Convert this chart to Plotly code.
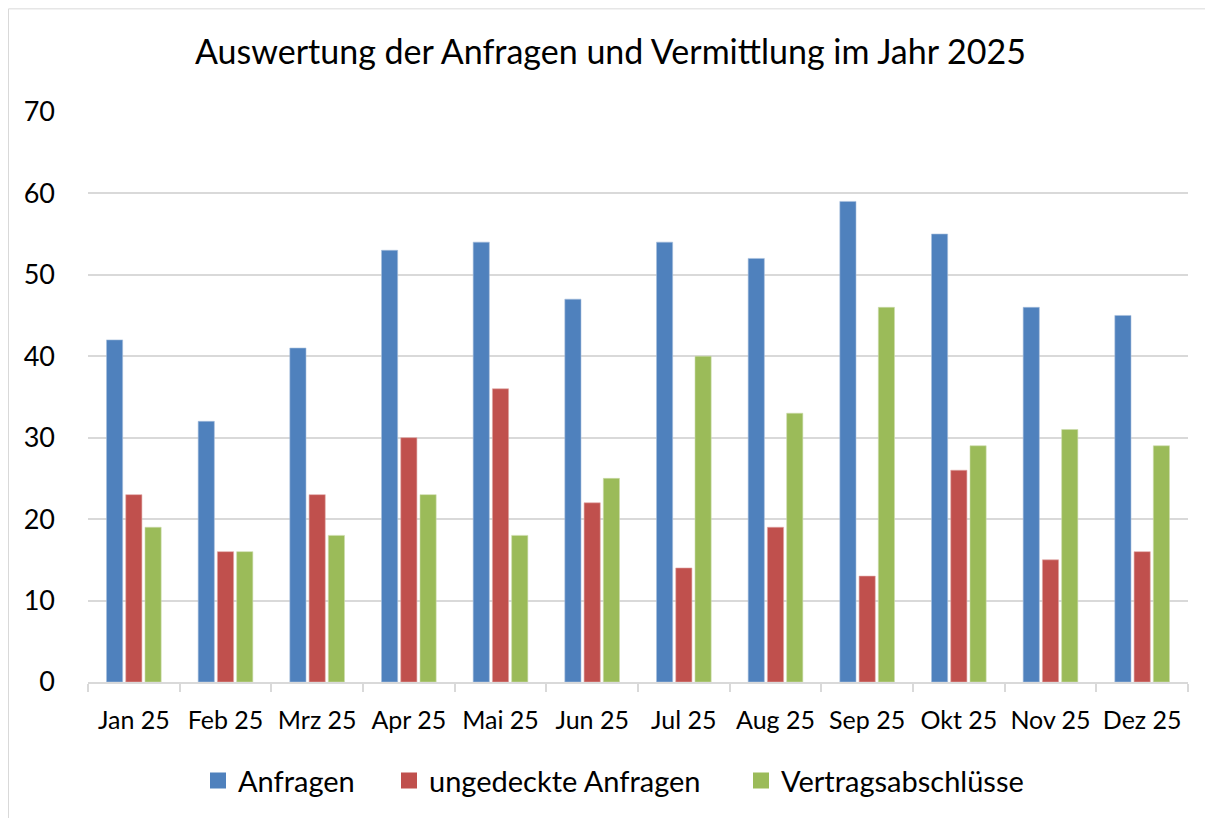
import plotly.graph_objects as go

months = ["Jan 25", "Feb 25", "Mrz 25", "Apr 25", "Mai 25", "Jun 25",
          "Jul 25", "Aug 25", "Sep 25", "Okt 25", "Nov 25", "Dez 25"]
anfragen = [42, 32, 41, 53, 54, 47, 54, 52, 59, 55, 46, 45]
ungedeckt = [23, 16, 23, 30, 36, 22, 14, 19, 13, 26, 15, 16]
vertraege = [19, 16, 18, 23, 18, 25, 40, 33, 46, 29, 31, 29]

series_names = ["Anfragen", "ungedeckte Anfragen", "Vertragsabschlüsse"]
colors = ["#4f81bd", "#c0504d", "#9bbb59"]
edge_colors = ["#a7c0de", "#e0a8a6", "#cddcad"]

FONT = "Lato, 'Open Sans', sans-serif"
OFF = 8  # page body margin
W, H = 1213 - OFF, 818 - OFF
# target pixel positions in the screenshot
PL, PR, PT, PB = 88, 1188, 111, 684
ML, MR, MT, MB = PL - OFF, (W + OFF) - PR, PT - OFF, (H + OFF) - PB
pw = PR - PL
ph = PB - PT
def px_x(p):
    return (p - PL) / pw
def px_y(p):
    return (PB - p) / ph

fig = go.Figure()
for name, vals, c, ec in zip(series_names, [anfragen, ungedeckt, vertraege], colors, edge_colors):
    fig.add_bar(x=months, y=vals, name=name, marker_color=c,
                marker_line_color=ec, marker_line_width=0.6, showlegend=False)

# legend entries (square swatches), one legend per series for Excel-like spacing
legend_centers = [218, 409, 761]
legend_keys = ["legend", "legend2", "legend3"]
for name, c, key in zip(series_names, colors, legend_keys):
    fig.add_scatter(x=[None], y=[None], mode="markers", name=name,
                    marker=dict(symbol="square", size=18, color=c), legend=key)

legend_common = dict(orientation="h", yanchor="middle", y=px_y(783), xanchor="left",
                     font=dict(size=29, family=FONT), bgcolor="rgba(0,0,0,0)",
                     borderwidth=0, itemwidth=30)
legend_layouts = {}
for key, cx in zip(legend_keys, legend_centers):
    legend_layouts[key] = dict(legend_common, x=px_x(cx - 20))

fig.add_shape(type="rect", xref="paper", yref="paper",
              x0=px_x(8.5), x1=px_x(1230), y0=px_y(840), y1=px_y(8.5),
              line=dict(color="#d9d9d9", width=1), fillcolor="rgba(0,0,0,0)", layer="below")

fig.update_layout(
    width=W, height=H,
    margin=dict(l=ML, r=MR, t=MT, b=MB),
    paper_bgcolor="white", plot_bgcolor="white",
    barmode="group", bargap=0.37, bargroupgap=0.16,
    font=dict(family=FONT, color="#000000"),
    title=dict(text="Auswertung der Anfragen und Vermittlung im Jahr 2025",
               x=0.5, xanchor="center", y=1 - (52 - OFF) / H, yanchor="middle",
               font=dict(size=34, family=FONT, color="#000000")),
    xaxis=dict(showgrid=False, showline=True, linecolor="#d9d9d9", linewidth=1.5,
               ticks="outside", tickson="boundaries", ticklen=8, tickcolor="#d9d9d9",
               tickwidth=1.5, tickangle=0, automargin=False,
               tickfont=dict(size=25, family=FONT), ticklabelstandoff=15),
    yaxis=dict(range=[0, 70.1], dtick=10, showgrid=True, gridcolor="#d9d9d9", gridwidth=1.5,
               zeroline=False, showline=False, automargin=False,
               tickfont=dict(size=27, family=FONT), ticklabelstandoff=32),
    **legend_layouts,
)

fig.write_html("out.html")
